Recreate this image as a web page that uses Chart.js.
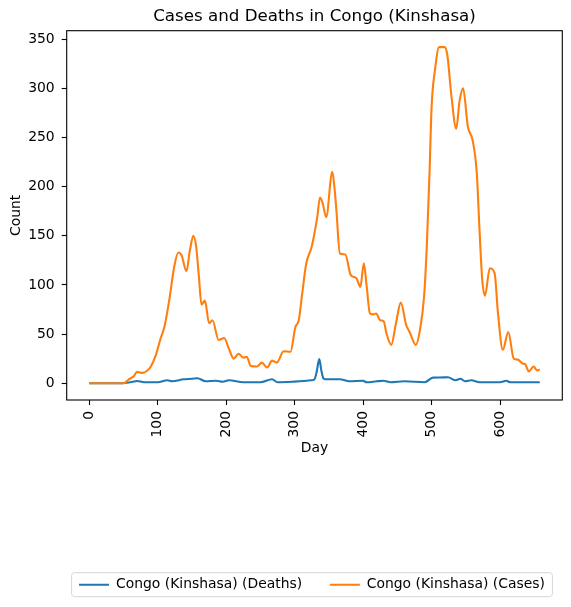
<!DOCTYPE html>
<html>
<head>
<meta charset="utf-8">
<script src="https://cdn.jsdelivr.net/npm/chart.js@4/dist/chart.umd.min.js"></script>
<style>
html,body{margin:0;padding:0;background:#ffffff;}
#wrap{width:571px;height:607px;position:relative;}
</style>
</head>
<body>
<div id="wrap"><canvas id="c"></canvas></div>
<script>
// ---------- data ----------
const chartTitle = 'Cases and Deaths in Congo (Kinshasa)';
const xAxisTitle = 'Day';
const yAxisTitle = 'Count';
const seriesNames = ['Congo (Kinshasa) (Deaths)', 'Congo (Kinshasa) (Cases)'];
const xTickValues = [0, 100, 200, 300, 400, 500, 600];
const yTickValues = [0, 50, 100, 150, 200, 250, 300, 350];

const deathDays = [0,48,60,70,80,100,114,121,138,150,158,170,185,195,204,225,250,267,275,296,325,329,332,336,339,342,345,366,380,400,405,420,430,440,460,490,502,512,524,535,542,549,558,570,600,609,615,658];
const deathValues = [0,0,1,2.3,1,1,3,2,4,4.5,5,2,2.5,1.5,3,1,1,4,1,1.5,3,4,11,24.5,13,5,4,4,2,2.5,1,2,2.5,1,2,1,5.7,5.8,6,3,4.5,2,3,1,1,2.5,1,1];

const caseDays = [0,50,58,65,70,78,85,90,97,104,110,117,124,130,135,142,147,152,156,160,164,169,175,180,189,197,204,211,218,225,230,236,245,252,260,267,274,284,294,301,306,311,317,325,333,337,341,346,355,358,361,366,374,382,390,396,401,405,410,415,419,425,430,434,441,448,455,463,468,477,483,489,493,497,500,505,511,519,523,529,536,541,546,553,560,566,570,574,578,585,592,597,604,612,620,626,633,637,642,649,654,658];
const caseValues = [0,0,4,7,11.5,10.5,13,17,28,45,58,85,118,133,130,114,135,150,140,110,80,84,61,64,44,46,35,25,30,26,27,17.5,17,21,16,23,21,32.5,32,57,64,91,122,139,169,189,183,169,215,200,176,132,131,110,107,98,122,100,71,70,71,64,63,51,39,61,82,59,52,39,54,88,139,214,281,319,342,342,334,292,259,288,300,261,247,214,156,105,89,117,112,71,34,52,25,24,20,19,12,17,13,14];

// ---------- layout constants ----------
const FONT = 'DejaVu Sans';
const PLOT_BOTTOM = 400;
const LEGEND_CENTER_Y = 584.7;
const LEG_PAD = 27.7;
const FS = 13.9;
const LINE_W = 2.1;
const LEG_SHIFT = -2.5;

const framePlugin = {
  id: 'mplFrame',
  afterLayout(chart) {
    const ca = chart.chartArea;
    const cx = (ca.left + ca.right) / 2;
    const t = chart.titleBlock;
    if (t) { const d = cx - (t.left + t.right) / 2; t.left += d; t.right += d; }
    const lg = chart.legend;
    if (lg) {
      const d = cx + LEG_SHIFT - (lg.left + lg.right) / 2; lg.left += d; lg.right += d;
      const h = lg.height;
      lg.top = LEGEND_CENTER_Y - LEG_PAD - FS / 2;
      lg.bottom = lg.top + h;
    }
  },
  afterDraw(chart) {
    const ctx = chart.ctx, ca = chart.chartArea;
    ctx.save();
    ctx.strokeStyle = '#000000';
    ctx.lineWidth = 1.1;
    ctx.strokeRect(ca.left, ca.top, ca.right - ca.left, ca.bottom - ca.top);
    const lg = chart.legend;
    if (lg && lg.lineWidths) {
      const cx = (lg.left + lg.right) / 2;
      const w = lg.lineWidths[0] - LEG_PAD;
      const x0 = cx - w / 2 - 7.5, x1 = cx + w / 2 + 7.5;
      const y0 = 572.7, y1 = 596.7;
      ctx.strokeStyle = '#d6d6d6';
      ctx.lineWidth = 1;
      ctx.beginPath();
      if (ctx.roundRect) ctx.roundRect(x0, y0, x1 - x0, y1 - y0, 3);
      else ctx.rect(x0, y0, x1 - x0, y1 - y0);
      ctx.stroke();
    }
    ctx.restore();
  }
};

const toPoints = (xs, ys) => xs.map((x, i) => ({x: x, y: ys[i]}));

new Chart(document.getElementById('c'), {
  type: 'line',
  data: {
    datasets: [
      {
        label: seriesNames[0],
        data: toPoints(deathDays, deathValues),
        borderColor: '#1f77b4',
        backgroundColor: '#1f77b4',
        borderWidth: LINE_W,
        pointRadius: 0,
        cubicInterpolationMode: 'monotone',
        fill: false,
        order: 1
      },
      {
        label: seriesNames[1],
        data: toPoints(caseDays, caseValues),
        borderColor: '#ff7f0e',
        backgroundColor: '#ff7f0e',
        borderWidth: LINE_W,
        pointRadius: 0,
        cubicInterpolationMode: 'monotone',
        fill: false,
        order: 0
      }
    ]
  },
  options: {
    responsive: true,
    maintainAspectRatio: false,
    animation: false,
    events: [],
    layout: {padding: {left: 0, right: 8.7, top: 0, bottom: 0}},
    plugins: {
      title: {
        display: true, text: chartTitle, color: '#000000',
        font: {family: FONT, size: 16.7, weight: 'normal'},
        padding: {top: 6.5, bottom: 4.16}
      },
      legend: {
        display: true, position: 'bottom',
        labels: {
          usePointStyle: true, pointStyle: 'line', pointStyleWidth: 30,
          padding: LEG_PAD, color: '#000000',
          font: {family: FONT, size: FS},
          sort: (a, b) => a.datasetIndex - b.datasetIndex
        }
      },
      tooltip: {enabled: false}
    },
    scales: {
      x: {
        type: 'linear', min: -32.9, max: 690.9,
        afterBuildTicks: s => { s.ticks = xTickValues.map(v => ({value: v})); },
        ticks: {minRotation: 90, maxRotation: 90, padding: 6, color: '#000000', font: {family: FONT, size: FS}},
        grid: {drawOnChartArea: false, drawTicks: true, tickLength: 5, tickWidth: 1.1, tickColor: '#000000'},
        border: {display: false},
        title: {display: true, text: xAxisTitle, color: '#000000', font: {family: FONT, size: FS}, padding: {top: 0, bottom: 98.3}},
        afterFit: s => { s.height = s.chart.height - PLOT_BOTTOM - (s.chart.legend ? s.chart.legend.height : 0); }
      },
      y: {
        type: 'linear', min: -17.08, max: 358.7,
        afterBuildTicks: s => { s.ticks = yTickValues.map(v => ({value: v})); },
        ticks: {padding: 7, color: '#000000', font: {family: FONT, size: FS}},
        grid: {drawOnChartArea: false, drawTicks: true, tickLength: 5, tickWidth: 1.1, tickColor: '#000000'},
        border: {display: false},
        title: {display: true, text: yAxisTitle, color: '#000000', font: {family: FONT, size: FS}, padding: {top: 8, bottom: 0}},
        afterFit: s => { s.width = 66.7; }
      }
    }
  },
  plugins: [framePlugin]
});
</script>
</body>
</html>
